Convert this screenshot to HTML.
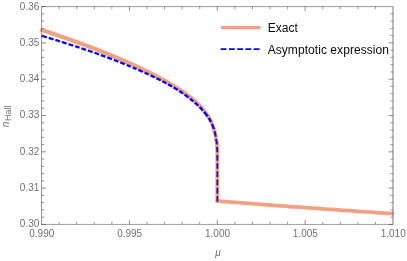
<!DOCTYPE html>
<html><head><meta charset="utf-8"><title>plot</title>
<style>
html,body{margin:0;padding:0;background:#fff;}
body{width:407px;height:261px;overflow:hidden;font-family:"Liberation Sans",sans-serif;}
svg{display:block;will-change:transform}
text{font-family:"Liberation Sans",sans-serif;}
.t{font-size:10px;fill:#707070;}
.lg{font-size:12px;fill:#0a0a0a;letter-spacing:0.06px}
.M{stroke:#555;stroke-width:0.68;fill:none}
.m{stroke:#5a5a5a;stroke-width:0.64;fill:none}
.fr{stroke:#666;stroke-width:0.85;fill:none}
.ex{stroke:#F1A284;stroke-width:3.9;fill:none;stroke-linejoin:round;stroke-linecap:butt}
.as{stroke:#0808F2;fill:none;stroke-linejoin:round;}
</style></head><body>
<svg width="407" height="261" viewBox="0 0 407 261">
<g transform="scale(1,1.0)">
<path class="ex" style="stroke-width:3.75" d="M215.55,200.756 L217.35,200.900 L221.88,201.276 L226.40,201.650 L230.93,202.020 L235.46,202.387 L239.98,202.750 L244.51,203.110 L249.04,203.465 L253.57,203.816 L258.09,204.164 L262.62,204.507 L267.15,204.847 L271.67,205.184 L276.20,205.518 L280.73,205.850 L285.25,206.180 L289.78,206.507 L294.31,206.834 L298.83,207.159 L303.36,207.483 L307.89,207.806 L312.42,208.129 L316.94,208.451 L321.47,208.771 L326.00,209.091 L330.52,209.410 L335.05,209.728 L339.58,210.044 L344.10,210.360 L348.63,210.675 L353.16,210.988 L357.68,211.300 L362.21,211.611 L366.74,211.920 L371.27,212.229 L375.79,212.536 L380.32,212.842 L384.85,213.146 L389.37,213.449 L393.90,213.750"/>
<g transform="scale(1,1.08)"><path class="ex" d="M40.20,27.235 L41.50,27.636 L41.94,27.772 L42.38,27.907 L42.82,28.043 L43.25,28.179 L43.69,28.315 L44.13,28.451 L44.57,28.587 L45.01,28.723 L45.45,28.859 L45.88,28.996 L46.32,29.132 L46.76,29.269 L47.20,29.406 L47.64,29.542 L48.07,29.679 L48.51,29.816 L48.95,29.954 L49.39,30.091 L49.83,30.228 L50.26,30.366 L50.70,30.504 L51.14,30.641 L51.58,30.779 L52.01,30.917 L52.45,31.055 L52.89,31.194 L53.33,31.332 L53.76,31.470 L54.20,31.609 L54.64,31.748 L55.08,31.887 L55.51,32.026 L55.95,32.165 L56.39,32.304 L56.83,32.443 L57.26,32.583 L57.70,32.722 L58.14,32.862 L58.57,33.002 L59.01,33.142 L59.45,33.282 L59.89,33.422 L60.32,33.563 L60.76,33.703 L61.20,33.844 L61.63,33.985 L62.07,34.125 L62.51,34.266 L62.94,34.408 L63.38,34.549 L63.82,34.690 L64.25,34.832 L64.69,34.974 L65.12,35.115 L65.56,35.257 L66.00,35.399 L66.43,35.542 L66.87,35.684 L67.31,35.827 L67.74,35.969 L68.18,36.112 L68.61,36.255 L69.05,36.398 L69.49,36.541 L69.92,36.685 L70.36,36.828 L70.79,36.972 L71.23,37.115 L71.66,37.259 L72.10,37.403 L72.54,37.547 L72.97,37.691 L73.41,37.835 L73.84,37.980 L74.28,38.124 L74.71,38.269 L75.15,38.414 L75.58,38.558 L76.02,38.703 L76.45,38.848 L76.89,38.994 L77.32,39.139 L77.76,39.284 L78.20,39.430 L78.63,39.576 L79.06,39.722 L79.50,39.868 L79.93,40.014 L80.37,40.161 L80.80,40.307 L81.24,40.454 L81.67,40.601 L82.11,40.748 L82.54,40.895 L82.98,41.043 L83.41,41.190 L83.85,41.338 L84.28,41.486 L84.71,41.634 L85.15,41.783 L85.58,41.931 L86.02,42.080 L86.45,42.229 L86.88,42.379 L87.32,42.528 L87.75,42.678 L88.18,42.828 L88.62,42.978 L89.05,43.128 L89.48,43.279 L89.92,43.429 L90.35,43.580 L90.78,43.732 L91.22,43.883 L91.65,44.035 L92.08,44.187 L92.51,44.339 L92.95,44.492 L93.38,44.644 L93.81,44.798 L94.24,44.951 L94.67,45.104 L95.11,45.258 L95.54,45.412 L95.97,45.567 L96.40,45.722 L96.83,45.876 L97.27,46.032 L97.70,46.187 L98.13,46.343 L98.56,46.499 L98.99,46.655 L99.42,46.812 L99.85,46.969 L100.28,47.126 L100.71,47.284 L101.14,47.441 L101.57,47.599 L102.00,47.758 L102.43,47.916 L102.86,48.075 L103.29,48.234 L103.72,48.393 L104.15,48.553 L104.58,48.712 L105.01,48.873 L105.44,49.033 L105.87,49.193 L106.30,49.354 L106.73,49.515 L107.16,49.677 L107.59,49.839 L108.02,50.000 L108.45,50.163 L108.87,50.325 L109.30,50.488 L109.73,50.651 L110.16,50.814 L110.59,50.977 L111.01,51.141 L111.44,51.305 L111.87,51.470 L112.30,51.634 L112.73,51.799 L113.15,51.964 L113.58,52.129 L114.01,52.295 L114.44,52.461 L114.86,52.627 L115.29,52.793 L115.72,52.960 L116.14,53.127 L116.57,53.294 L117.00,53.461 L117.42,53.629 L117.85,53.797 L118.27,53.965 L118.70,54.134 L119.13,54.303 L119.55,54.472 L119.98,54.641 L120.40,54.811 L120.83,54.981 L121.25,55.151 L121.68,55.321 L122.10,55.492 L122.53,55.663 L122.95,55.834 L123.38,56.005 L123.80,56.177 L124.23,56.349 L124.65,56.521 L125.08,56.694 L125.50,56.867 L125.92,57.040 L126.35,57.213 L126.77,57.387 L127.20,57.561 L127.62,57.735 L128.04,57.910 L128.47,58.085 L128.89,58.260 L129.31,58.435 L129.73,58.611 L130.16,58.787 L130.58,58.963 L131.00,59.139 L131.42,59.316 L131.85,59.493 L132.27,59.671 L132.69,59.848 L133.11,60.026 L133.53,60.205 L133.96,60.383 L134.38,60.562 L134.80,60.741 L135.22,60.921 L135.64,61.101 L136.06,61.281 L136.48,61.461 L136.90,61.642 L137.32,61.823 L137.74,62.004 L138.16,62.186 L138.58,62.368 L139.00,62.550 L139.42,62.732 L139.84,62.915 L140.26,63.098 L140.68,63.282 L141.10,63.466 L141.52,63.650 L141.94,63.835 L142.36,64.020 L142.77,64.205 L143.19,64.391 L143.61,64.577 L144.03,64.764 L144.44,64.950 L144.86,65.138 L145.28,65.325 L145.70,65.513 L146.11,65.702 L146.53,65.891 L146.95,66.080 L147.36,66.269 L147.78,66.459 L148.19,66.650 L148.61,66.841 L149.02,67.032 L149.44,67.224 L149.85,67.416 L150.27,67.609 L150.68,67.802 L151.10,67.995 L151.51,68.189 L151.93,68.383 L152.34,68.578 L152.75,68.774 L153.17,68.969 L153.58,69.166 L153.99,69.363 L154.40,69.560 L154.81,69.758 L155.23,69.956 L155.64,70.155 L156.05,70.354 L156.46,70.554 L156.87,70.754 L157.28,70.955 L157.69,71.156 L158.10,71.358 L158.51,71.560 L158.92,71.763 L159.33,71.967 L159.74,72.171 L160.14,72.375 L160.55,72.580 L160.96,72.786 L161.37,72.992 L161.77,73.199 L162.18,73.406 L162.59,73.614 L162.99,73.823 L163.40,74.032 L163.80,74.241 L164.21,74.452 L164.61,74.662 L165.02,74.874 L165.42,75.086 L165.82,75.298 L166.23,75.511 L166.63,75.725 L167.03,75.939 L167.43,76.154 L167.83,76.369 L168.23,76.585 L168.63,76.801 L169.03,77.018 L169.43,77.236 L169.83,77.454 L170.23,77.672 L170.63,77.891 L171.03,78.110 L171.43,78.330 L171.82,78.551 L172.22,78.772 L172.61,78.993 L173.01,79.216 L173.40,79.439 L173.80,79.663 L174.19,79.888 L174.58,80.113 L174.97,80.339 L175.36,80.566 L175.75,80.793 L176.14,81.021 L176.53,81.250 L176.92,81.479 L177.31,81.708 L177.69,81.939 L178.08,82.170 L178.46,82.401 L178.85,82.634 L179.23,82.867 L179.62,83.101 L180.00,83.335 L180.38,83.570 L180.76,83.805 L181.14,84.041 L181.52,84.277 L181.90,84.514 L182.27,84.752 L182.65,84.990 L183.03,85.230 L183.40,85.470 L183.78,85.710 L184.15,85.952 L184.52,86.194 L184.89,86.437 L185.27,86.681 L185.64,86.926 L186.01,87.171 L186.37,87.418 L186.74,87.666 L187.11,87.915 L187.48,88.165 L187.84,88.416 L188.21,88.669 L188.57,88.923 L188.93,89.178 L189.30,89.435 L189.66,89.693 L190.02,89.953 L190.38,90.214 L190.74,90.476 L191.09,90.741 L191.45,91.007 L191.81,91.274 L192.16,91.544 L192.52,91.815 L192.87,92.089 L193.22,92.364 L193.57,92.642 L193.92,92.921 L194.27,93.202 L194.62,93.485 L194.96,93.770 L195.31,94.058 L195.65,94.347 L196.00,94.638 L196.34,94.932 L196.68,95.228 L197.01,95.527 L197.35,95.827 L197.68,96.131 L198.02,96.436 L198.35,96.744 L198.68,97.053 L199.01,97.365 L199.34,97.679 L199.66,97.996 L199.99,98.314 L200.31,98.634 L200.63,98.957 L200.94,99.282 L201.26,99.609 L201.57,99.938 L201.88,100.269 L202.19,100.601 L202.50,100.936 L202.81,101.272 L203.11,101.611 L203.42,101.951 L203.72,102.293 L204.02,102.636 L204.31,102.982 L204.61,103.329 L204.90,103.677 L205.18,104.028 L205.47,104.380 L205.75,104.733 L206.03,105.089 L206.31,105.445 L206.59,105.803 L206.87,106.162 L207.14,106.523 L207.42,106.885 L207.69,107.249 L207.96,107.615 L208.23,107.982 L208.49,108.350 L208.75,108.721 L209.00,109.093 L209.24,109.467 L209.48,109.843 L209.71,110.220 L209.94,110.600 L210.15,110.982 L210.37,111.367 L210.58,111.754 L210.79,112.144 L211.00,112.537 L211.20,112.931 L211.41,113.328 L211.60,113.726 L211.80,114.126 L211.98,114.527 L212.17,114.930 L212.35,115.333 L212.53,115.738 L212.70,116.143 L212.87,116.549 L213.03,116.955 L213.18,117.361 L213.33,117.767 L213.48,118.173 L213.62,118.581 L213.76,118.991 L213.90,119.403 L214.03,119.815 L214.17,120.229 L214.29,120.644 L214.42,121.060 L214.54,121.477 L214.66,121.895 L214.78,122.313 L214.89,122.732 L215.00,123.151 L215.10,123.570 L215.20,123.989 L215.30,124.409 L215.40,124.828 L215.49,125.247 L215.57,125.666 L215.65,126.087 L215.73,126.509 L215.80,126.931 L215.87,127.354 L215.94,127.777 L216.01,128.200 L216.08,128.623 L216.15,129.045 L216.23,129.467 L216.31,129.889 L216.40,130.310 L216.49,130.732 L216.58,131.153 L216.66,131.575 L216.74,131.996 L216.80,132.418 L216.85,132.840 L216.89,133.262 L216.92,133.685 L216.95,134.108 L216.98,134.532 L217.01,134.956 L217.04,135.380 L217.06,135.805 L217.08,136.230 L217.10,136.655 L217.12,137.080 L217.14,137.506 L217.16,137.931 L217.17,138.356 L217.19,138.781 L217.20,139.206 L217.21,139.631 L217.22,140.055 L217.23,140.479 L217.24,140.903 L217.25,141.328 L217.26,141.752 L217.27,142.176 L217.28,142.600 L217.28,143.025 L217.29,143.449 L217.30,143.873 L217.30,144.297 L217.31,144.721 L217.31,145.146 L217.32,145.570 L217.32,145.994 L217.32,146.418 L217.32,146.842 L217.32,147.266 L217.33,147.690 L217.33,148.114 L217.33,148.538 L217.33,148.962 L217.33,149.386 L217.34,149.810 L217.34,150.234 L217.34,150.658 L217.34,151.082 L217.34,151.506 L217.34,151.930 L217.34,152.353 L217.34,152.777 L217.35,153.201 L217.35,153.625 L217.35,154.049 L217.35,154.473 L217.35,154.897 L217.35,155.321 L217.35,155.745 L217.35,156.169 L217.35,156.593 L217.35,157.017 L217.35,157.441 L217.35,157.865 L217.35,158.289 L217.35,158.713 L217.35,159.137 L217.35,159.560 L217.35,159.984 L217.35,160.408 L217.35,160.832 L217.35,161.256 L217.35,161.680 L217.35,162.104 L217.35,162.528 L217.35,162.952 L217.35,163.376 L217.35,163.800 L217.35,164.224 L217.35,164.648 L217.35,165.071 L217.35,165.495 L217.35,165.919 L217.35,166.343 L217.35,166.767 L217.35,167.191 L217.35,167.615 L217.35,168.039 L217.35,168.463 L217.35,168.887 L217.35,169.311 L217.35,169.735 L217.35,170.159 L217.35,170.582 L217.35,171.006 L217.35,171.430 L217.35,171.854 L217.35,172.278 L217.35,172.702 L217.35,173.126 L217.35,173.550 L217.35,173.974 L217.35,174.398 L217.35,174.822 L217.35,175.246 L217.35,175.669 L217.35,176.093 L217.35,176.517 L217.35,176.941 L217.35,177.365 L217.35,177.789 L217.35,178.213 L217.35,178.637 L217.35,179.061 L217.35,179.485 L217.35,179.909 L217.35,180.333 L217.35,180.757 L217.35,181.180 L217.35,181.604 L217.35,182.028 L217.35,182.452 L217.35,182.876 L217.35,183.300 L217.35,183.724 L217.35,184.148 L217.35,184.572 L217.35,184.996 L217.35,185.420 L217.35,185.844 L217.35,186.267 L217.35,186.019"/></g>
</g>
<path class="as" stroke-width="2.30" d="M41.50,35.74 L42.26,35.97 L43.02,36.20 L43.77,36.43 L44.53,36.65 L45.29,36.88 L46.05,37.11 L46.80,37.34"/>
<path class="as" stroke-width="2.30" d="M48.72,37.92 L49.40,38.13 L50.08,38.34 L50.76,38.55 L51.44,38.76 L52.12,38.96 L52.80,39.17 L53.47,39.38"/>
<path class="as" stroke-width="2.30" d="M55.39,39.97 L56.15,40.21 L56.91,40.44 L57.67,40.68 L58.43,40.92 L59.19,41.16 L59.95,41.39"/>
<path class="as" stroke-width="2.30" d="M61.85,41.99 L62.53,42.21 L63.21,42.42 L63.89,42.64 L64.57,42.85 L65.25,43.07 L65.93,43.28 L66.61,43.50"/>
<path class="as" stroke-width="2.30" d="M68.51,44.11 L69.18,44.32 L69.85,44.54 L70.51,44.75 L71.18,44.97 L71.85,45.18 L72.51,45.40 L73.18,45.61"/>
<path class="as" stroke-width="2.30" d="M75.08,46.23 L75.83,46.47 L76.57,46.72 L77.32,46.96 L78.06,47.21 L78.81,47.45 L79.55,47.70"/>
<path class="as" stroke-width="2.30" d="M81.45,48.32 L82.20,48.57 L82.95,48.82 L83.70,49.07 L84.45,49.32 L85.20,49.58 L85.95,49.83"/>
<path class="as" stroke-width="2.30" d="M87.85,50.47 L88.52,50.70 L89.19,50.93 L89.87,51.16 L90.54,51.39 L91.21,51.62 L91.88,51.85 L92.56,52.09"/>
<path class="as" stroke-width="2.30" d="M94.44,52.74 L95.20,53.01 L95.95,53.27 L96.70,53.54 L97.46,53.81 L98.21,54.08 L98.96,54.34"/>
<path class="as" stroke-width="2.30" d="M100.84,55.02 L101.59,55.30 L102.35,55.57 L103.10,55.85 L103.86,56.12 L104.61,56.40 L105.36,56.68"/>
<path class="as" stroke-width="2.31" d="M107.24,57.37 L107.91,57.63 L108.59,57.88 L109.27,58.14 L109.94,58.39 L110.62,58.65 L111.29,58.90 L111.97,59.16"/>
<path class="as" stroke-width="2.31" d="M113.83,59.88 L114.59,60.17 L115.35,60.46 L116.10,60.75 L116.86,61.05 L117.61,61.34 L118.37,61.64"/>
<path class="as" stroke-width="2.31" d="M120.23,62.38 L120.99,62.68 L121.75,62.98 L122.50,63.28 L123.26,63.59 L124.02,63.89 L124.77,64.20"/>
<path class="as" stroke-width="2.32" d="M126.63,64.95 L127.32,65.24 L128.01,65.52 L128.70,65.81 L129.40,66.10 L130.09,66.38 L130.78,66.67"/>
<path class="as" stroke-width="2.32" d="M132.62,67.45 L133.39,67.77 L134.17,68.10 L134.94,68.43 L135.71,68.76 L136.48,69.09"/>
<path class="as" stroke-width="2.33" d="M138.32,69.88 L139.06,70.21 L139.81,70.53 L140.55,70.86 L141.30,71.19 L142.04,71.52 L142.79,71.85"/>
<path class="as" stroke-width="2.33" d="M144.61,72.67 L145.29,72.97 L145.97,73.28 L146.66,73.59 L147.34,73.90 L148.01,74.22 L148.69,74.53"/>
<path class="as" stroke-width="2.34" d="M150.51,75.38 L151.21,75.71 L151.91,76.04 L152.61,76.37 L153.31,76.71 L154.00,77.04 L154.70,77.38"/>
<path class="as" stroke-width="2.35" d="M156.50,78.26 L157.20,78.61 L157.91,78.96 L158.61,79.31 L159.31,79.66 L160.01,80.02 L160.71,80.37"/>
<path class="as" stroke-width="2.36" d="M162.49,81.29 L163.14,81.63 L163.79,81.97 L164.43,82.31 L165.08,82.66 L165.73,83.00 L166.37,83.35"/>
<path class="as" stroke-width="2.37" d="M168.13,84.31 L168.76,84.67 L169.40,85.02 L170.04,85.38 L170.67,85.74 L171.30,86.10 L171.94,86.46"/>
<path class="as" stroke-width="2.39" d="M173.66,87.48 L174.33,87.88 L175.00,88.28 L175.67,88.69 L176.33,89.10 L177.00,89.52 L177.66,89.94"/>
<path class="as" stroke-width="2.41" d="M179.34,91.02 L179.95,91.43 L180.56,91.83 L181.17,92.24 L181.77,92.65 L182.38,93.07 L182.98,93.49"/>
<path class="as" stroke-width="2.42" d="M184.61,94.64 L185.25,95.10 L185.89,95.56 L186.52,96.03 L187.15,96.49 L187.78,96.97 L188.41,97.44"/>
<path class="as" stroke-width="2.44" d="M189.99,98.67 L190.55,99.11 L191.11,99.56 L191.67,100.01 L192.23,100.46 L192.79,100.92 L193.34,101.38"/>
<path class="as" stroke-width="2.45" d="M194.86,102.68 L195.42,103.17 L195.98,103.66 L196.54,104.16 L197.09,104.67 L197.64,105.17 L198.18,105.69"/>
<path class="as" stroke-width="2.45" d="M199.61,107.08 L200.15,107.62 L200.68,108.16 L201.20,108.70 L201.72,109.26 L202.23,109.81 L202.74,110.37"/>
<path class="as" stroke-width="2.45" d="M204.05,111.88 L204.51,112.43 L204.97,112.98 L205.42,113.54 L205.86,114.10 L206.30,114.67 L206.73,115.24 L207.16,115.81 L207.59,116.39"/>
<path class="as" stroke-width="2.42" d="M208.74,118.03 L209.16,118.67 L209.56,119.33 L209.95,119.99 L210.31,120.67 L210.67,121.35 L211.02,122.03"/>
<path class="as" stroke-width="2.20" d="M211.94,123.98 L212.25,124.69 L212.56,125.42 L212.84,126.15 L213.12,126.88 L213.38,127.62 L213.63,128.36 L213.87,129.11"/>
<path class="as" stroke-width="2.01" d="M214.51,131.30 L214.71,132.05 L214.90,132.80 L215.08,133.56 L215.25,134.32 L215.41,135.08 L215.56,135.84 L215.70,136.60"/>
<path class="as" stroke-width="1.97" d="M216.07,139.00 L216.20,139.76 L216.33,140.52 L216.48,141.28 L216.63,142.04 L216.76,142.80 L216.85,143.57 L216.91,144.34"/>
<path class="as" stroke-width="1.78" d="M217.06,146.86 L217.10,147.65 L217.13,148.43 L217.16,149.22 L217.19,150.00 L217.21,150.79 L217.23,151.57 L217.24,152.36"/>
<path class="as" stroke-width="1.76" d="M217.29,154.94 L217.30,155.66 L217.31,156.38 L217.31,157.10 L217.32,157.82 L217.32,158.54 L217.33,159.26 L217.33,159.98 L217.33,160.70"/>
<path class="as" stroke-width="1.75" d="M217.34,163.30 L217.34,164.08 L217.34,164.86 L217.35,165.63 L217.35,166.41 L217.35,167.19 L217.35,167.97 L217.35,168.75"/>
<path class="as" stroke-width="1.75" d="M217.35,171.35 L217.35,172.06 L217.35,172.76 L217.35,173.47 L217.35,174.17 L217.35,174.88 L217.35,175.59 L217.35,176.29 L217.35,177.00"/>
<path class="as" stroke-width="1.75" d="M217.35,179.60 L217.35,180.31 L217.35,181.03 L217.35,181.74 L217.35,182.45 L217.35,183.16 L217.35,183.88 L217.35,184.59 L217.35,185.30"/>
<path class="as" stroke-width="1.75" d="M217.35,187.90 L217.35,188.61 L217.35,189.31 L217.35,190.02 L217.35,190.73 L217.35,191.43 L217.35,192.14 L217.35,192.84 L217.35,193.55"/>
<path class="as" stroke-width="1.75" d="M217.35,196.15 L217.35,196.94 L217.35,197.74 L217.35,198.53 L217.35,199.32 L217.35,200.11 L217.35,200.91 L217.35,201.70"/>
<path class="fr" style="stroke-width:0.62" d="M41.2,224.45 H393.4"/>
<path class="fr" style="stroke-width:0.66" d="M41.2,6.6 H393.4"/>
<path class="fr" style="stroke-width:0.72" d="M41.6,6.6 V224.45"/>
<path class="fr" style="stroke-width:0.9" d="M393.0,6.6 V224.45"/>
<path class="m" d="M59.17,224.45 v-2.6"/>
<path class="m" d="M59.17,6.6 v2.6"/>
<path class="m" d="M76.74,224.45 v-2.6"/>
<path class="m" d="M76.74,6.6 v2.6"/>
<path class="m" d="M94.31,224.45 v-2.6"/>
<path class="m" d="M94.31,6.6 v2.6"/>
<path class="m" d="M111.88,224.45 v-2.6"/>
<path class="m" d="M111.88,6.6 v2.6"/>
<path class="M" d="M129.45,224.45 v-4.4"/>
<path class="M" d="M129.45,6.6 v4.4"/>
<path class="m" d="M147.02,224.45 v-2.6"/>
<path class="m" d="M147.02,6.6 v2.6"/>
<path class="m" d="M164.59,224.45 v-2.6"/>
<path class="m" d="M164.59,6.6 v2.6"/>
<path class="m" d="M182.16,224.45 v-2.6"/>
<path class="m" d="M182.16,6.6 v2.6"/>
<path class="m" d="M199.73,224.45 v-2.6"/>
<path class="m" d="M199.73,6.6 v2.6"/>
<path class="M" d="M217.30,224.45 v-4.4"/>
<path class="M" d="M217.30,6.6 v4.4"/>
<path class="m" d="M234.87,224.45 v-2.6"/>
<path class="m" d="M234.87,6.6 v2.6"/>
<path class="m" d="M252.44,224.45 v-2.6"/>
<path class="m" d="M252.44,6.6 v2.6"/>
<path class="m" d="M270.01,224.45 v-2.6"/>
<path class="m" d="M270.01,6.6 v2.6"/>
<path class="m" d="M287.58,224.45 v-2.6"/>
<path class="m" d="M287.58,6.6 v2.6"/>
<path class="M" d="M305.15,224.45 v-4.4"/>
<path class="M" d="M305.15,6.6 v4.4"/>
<path class="m" d="M322.72,224.45 v-2.6"/>
<path class="m" d="M322.72,6.6 v2.6"/>
<path class="m" d="M340.29,224.45 v-2.6"/>
<path class="m" d="M340.29,6.6 v2.6"/>
<path class="m" d="M357.86,224.45 v-2.6"/>
<path class="m" d="M357.86,6.6 v2.6"/>
<path class="m" d="M375.43,224.45 v-2.6"/>
<path class="m" d="M375.43,6.6 v2.6"/>
<path class="M" d="M41.6,224.45 h4.4"/>
<path class="M" d="M393.0,224.45 h-4.4"/>
<path class="m" d="M41.6,217.19 h2.6"/>
<path class="m" d="M393.0,217.19 h-2.6"/>
<path class="m" d="M41.6,209.93 h2.6"/>
<path class="m" d="M393.0,209.93 h-2.6"/>
<path class="m" d="M41.6,202.66 h2.6"/>
<path class="m" d="M393.0,202.66 h-2.6"/>
<path class="m" d="M41.6,195.40 h2.6"/>
<path class="m" d="M393.0,195.40 h-2.6"/>
<path class="M" d="M41.6,188.14 h4.4"/>
<path class="M" d="M393.0,188.14 h-4.4"/>
<path class="m" d="M41.6,180.88 h2.6"/>
<path class="m" d="M393.0,180.88 h-2.6"/>
<path class="m" d="M41.6,173.62 h2.6"/>
<path class="m" d="M393.0,173.62 h-2.6"/>
<path class="m" d="M41.6,166.36 h2.6"/>
<path class="m" d="M393.0,166.36 h-2.6"/>
<path class="m" d="M41.6,159.09 h2.6"/>
<path class="m" d="M393.0,159.09 h-2.6"/>
<path class="M" d="M41.6,151.83 h4.4"/>
<path class="M" d="M393.0,151.83 h-4.4"/>
<path class="m" d="M41.6,144.57 h2.6"/>
<path class="m" d="M393.0,144.57 h-2.6"/>
<path class="m" d="M41.6,137.31 h2.6"/>
<path class="m" d="M393.0,137.31 h-2.6"/>
<path class="m" d="M41.6,130.05 h2.6"/>
<path class="m" d="M393.0,130.05 h-2.6"/>
<path class="m" d="M41.6,122.79 h2.6"/>
<path class="m" d="M393.0,122.79 h-2.6"/>
<path class="M" d="M41.6,115.52 h4.4"/>
<path class="M" d="M393.0,115.52 h-4.4"/>
<path class="m" d="M41.6,108.26 h2.6"/>
<path class="m" d="M393.0,108.26 h-2.6"/>
<path class="m" d="M41.6,101.00 h2.6"/>
<path class="m" d="M393.0,101.00 h-2.6"/>
<path class="m" d="M41.6,93.74 h2.6"/>
<path class="m" d="M393.0,93.74 h-2.6"/>
<path class="m" d="M41.6,86.48 h2.6"/>
<path class="m" d="M393.0,86.48 h-2.6"/>
<path class="M" d="M41.6,79.22 h4.4"/>
<path class="M" d="M393.0,79.22 h-4.4"/>
<path class="m" d="M41.6,71.96 h2.6"/>
<path class="m" d="M393.0,71.96 h-2.6"/>
<path class="m" d="M41.6,64.69 h2.6"/>
<path class="m" d="M393.0,64.69 h-2.6"/>
<path class="m" d="M41.6,57.43 h2.6"/>
<path class="m" d="M393.0,57.43 h-2.6"/>
<path class="m" d="M41.6,50.17 h2.6"/>
<path class="m" d="M393.0,50.17 h-2.6"/>
<path class="M" d="M41.6,42.91 h4.4"/>
<path class="M" d="M393.0,42.91 h-4.4"/>
<path class="m" d="M41.6,35.65 h2.6"/>
<path class="m" d="M393.0,35.65 h-2.6"/>
<path class="m" d="M41.6,28.38 h2.6"/>
<path class="m" d="M393.0,28.38 h-2.6"/>
<path class="m" d="M41.6,21.12 h2.6"/>
<path class="m" d="M393.0,21.12 h-2.6"/>
<path class="m" d="M41.6,13.86 h2.6"/>
<path class="m" d="M393.0,13.86 h-2.6"/>
<path class="M" d="M41.6,6.60 h4.4"/>
<text class="t" x="41.80" y="236.55" text-anchor="middle">0.990</text>
<text class="t" x="129.65" y="236.55" text-anchor="middle">0.995</text>
<text class="t" x="217.50" y="236.55" text-anchor="middle">1.000</text>
<text class="t" x="305.35" y="236.55" text-anchor="middle">1.005</text>
<text class="t" x="393.20" y="236.55" text-anchor="middle">1.010</text>
<text class="t" x="39.3" y="227.35" text-anchor="end">0.30</text>
<text class="t" x="39.3" y="191.04" text-anchor="end">0.31</text>
<text class="t" x="39.3" y="154.73" text-anchor="end">0.32</text>
<text class="t" x="39.3" y="118.42" text-anchor="end">0.33</text>
<text class="t" x="39.3" y="82.12" text-anchor="end">0.34</text>
<text class="t" x="39.3" y="45.81" text-anchor="end">0.35</text>
<text class="t" x="39.3" y="9.50" text-anchor="end">0.36</text>
<text class="t" x="218" y="256.1" text-anchor="middle" font-style="italic">μ</text>
<g transform="translate(9.2,127.3) rotate(-90)"><text class="t" x="0" y="0" font-style="italic">n</text><text class="t" x="6.4" y="1.8" style="font-size:9px">Hall</text></g>
<path d="M221,27.6 H260.5" stroke="#F1A184" stroke-width="3.45" fill="none"/>
<path d="M220.6,49.1 H260.5" stroke="#0808F2" stroke-width="1.7" fill="none" stroke-dasharray="5.9 2.35"/>
<text class="lg" x="267.7" y="32.3">Exact</text>
<text class="lg" x="267.7" y="54.1">Asymptotic expression</text>
</svg>
</body></html>
